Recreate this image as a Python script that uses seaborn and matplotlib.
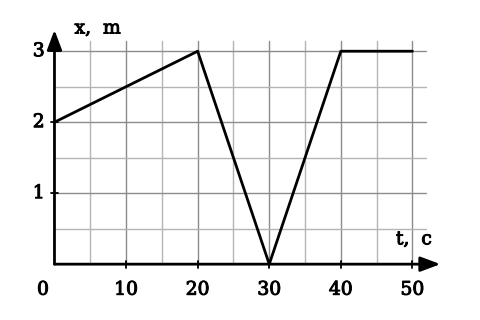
import matplotlib
matplotlib.use("Agg")
import matplotlib.pyplot as plt
import matplotlib.patheffects as pe
import seaborn as sns
import pandas as pd

t_vals = [0, 20, 30, 40, 50]
x_vals = [2, 3, 0, 3, 3]
x_ticks = [10, 20, 30, 40, 50]
y_ticks = [1, 2, 3]
x_grid = [5, 10, 15, 20, 25, 30, 35, 40, 45, 50]
y_grid = [0.5, 1, 1.5, 2, 2.5, 3]

sns.set_style("white")
plt.rcParams['font.family'] = ['DejaVu Serif']
plt.rcParams['text.color'] = 'black'

df = pd.DataFrame({"t": t_vals, "x": x_vals})

fig = plt.figure(figsize=(4.8, 3.2), dpi=100)
ax = fig.add_axes([0.1135, 0.1745, 0.8054, 0.732])
ax.set_xlim(0, 54)
ax.set_ylim(0, 3.3)
for s in ax.spines.values():
    s.set_visible(False)
ax.set_xticks([])
ax.set_yticks([])

# grid
for g in x_grid:
    c = "#8c8c8c" if g % 10 == 0 else "#b4b4b4"
    ax.plot([g, g], [0, 3.15], color=c, lw=1, zorder=1)
for g in y_grid:
    c = "#8c8c8c" if g % 1 == 0 else "#b4b4b4"
    ax.plot([0, 51.9], [g, g], color=c, lw=1, zorder=1)

sns.lineplot(data=df, x="t", y="x", ax=ax, color="black", lw=2, zorder=5, clip_on=False)
ax.set_xlabel("")
ax.set_ylabel("")

# axes with arrows
ax.annotate("", xy=(53.9, 0), xytext=(0, 0), annotation_clip=False,
            arrowprops=dict(arrowstyle="-|>,head_length=1.2,head_width=0.45", color="black", lw=2,
                            shrinkA=0, shrinkB=0), zorder=6)
ax.annotate("", xy=(0, 3.3), xytext=(0, 0), annotation_clip=False,
            arrowprops=dict(arrowstyle="-|>,head_length=1.2,head_width=0.45", color="black", lw=2,
                            shrinkA=0, shrinkB=0), zorder=6)

fs = 13.5
tc = "black"
heavy = [pe.withStroke(linewidth=0.7, foreground="black")]
kw = dict(ha="center", va="center", fontsize=fs, color=tc, path_effects=heavy)
for v in x_ticks:
    ax.plot([v, v], [-0.05, 0.05], color="black", lw=1.3, zorder=6, clip_on=False)
    ax.text(v, -0.36, str(v), **kw)
ax.text(-1.6, -0.36, "0", **kw)
for v in y_ticks:
    ax.plot([-0.5, 0.5], [v, v], color="black", lw=1.3, zorder=6, clip_on=False)
    ax.text(-2.2, v, str(v), **kw)

ax.text(2.8, 3.32, "x,  m", ha="left", va="center", fontsize=fs, color=tc, path_effects=heavy)
ax.text(50.2, 0.35, "t,  c", **kw)

fig.savefig("out.png", dpi=100)
